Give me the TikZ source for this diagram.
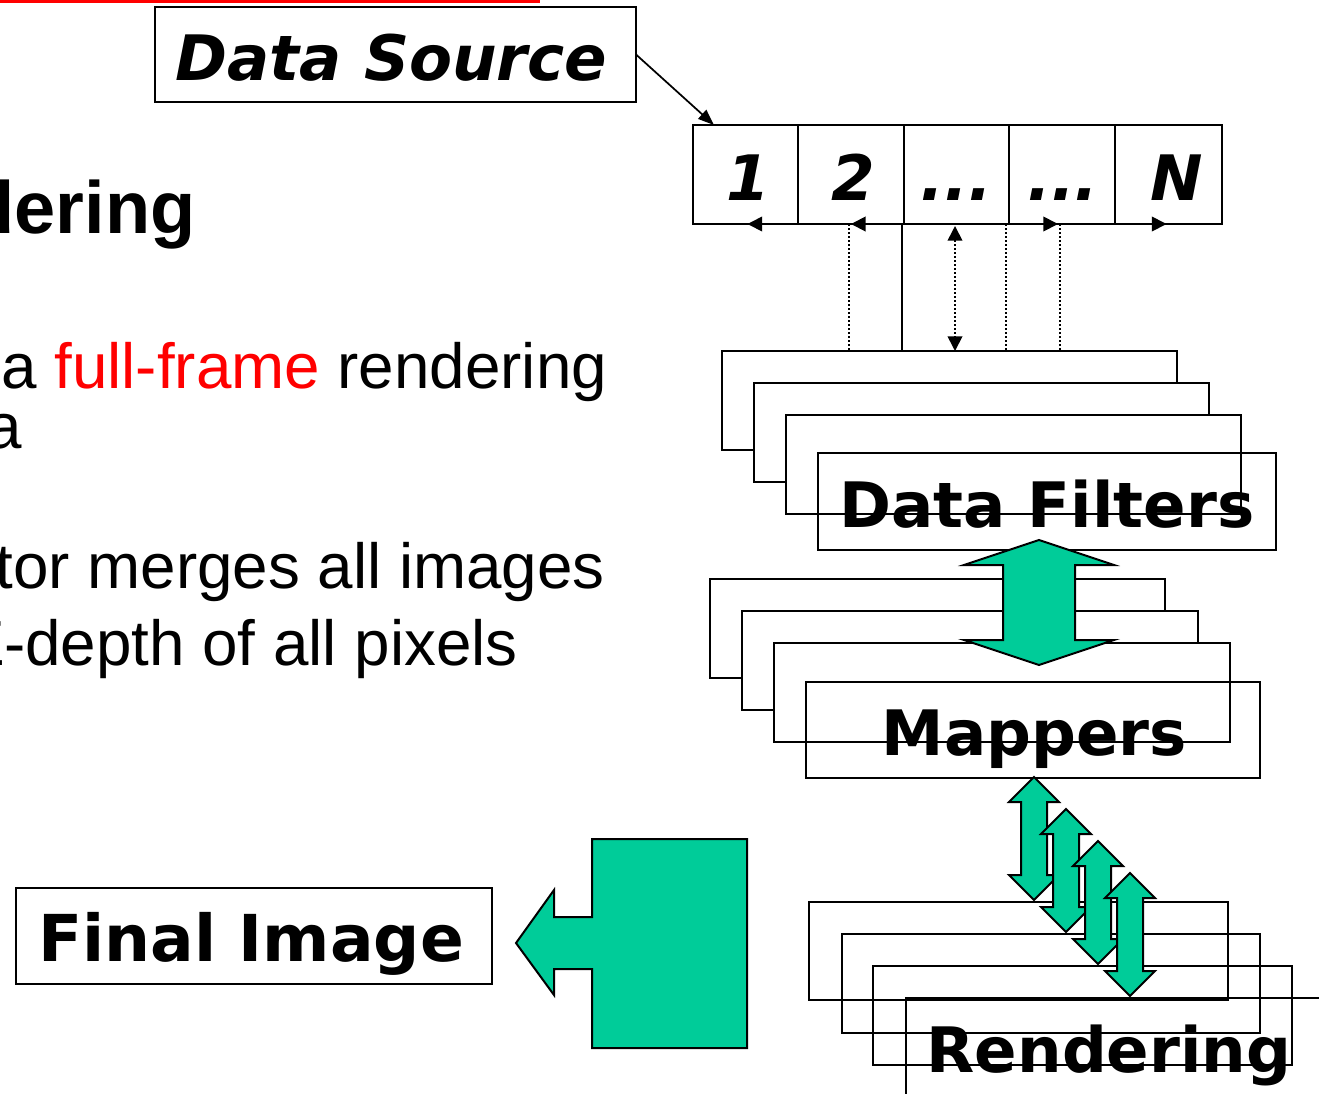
\documentclass[tikz,border=0pt]{standalone}
\usepackage{fontspec}
\setmainfont{Liberation Sans}
\newfontfamily\labelfont{DejaVu Sans}
\usetikzlibrary{arrows.meta,calc}
\definecolor{flowgreen}{HTML}{00CC99}
\definecolor{slidered}{HTML}{FF0000}

\tikzset{
  boxsize/.style 2 args={minimum width=#1*0.75pt, minimum height=#2*0.75pt,
    inner sep=0pt, outer sep=0pt, anchor=north west},
  frame/.style={draw=black, line width=1.5pt},
  layer/.style={frame, fill=white},
  boxtext/.style={font=\labelfont\bfseries\fontsize{47}{56}\selectfont,
    inner sep=0pt, anchor=base},
  celltext/.style={font=\labelfont\bfseries\itshape\fontsize{47}{56}\selectfont,
    inner sep=0pt, anchor=base},
  slidetext/.style={font=\fontsize{47.8}{56}\selectfont, inner sep=0pt},
  headtext/.style={font=\bfseries\fontsize{55.5}{64}\selectfont, inner sep=0pt},
  arrowbody/.style={draw=black, line width=1.5pt, fill=flowgreen, line join=miter},
  tap/.style={line width=1.3pt, dash pattern=on 1.5pt off 1.5pt},
  wire/.style={line width=1.5pt},
  tip/.style={-{Triangle[length=11pt,width=11pt]}},
  pics/dblarrow/.style n args={4}{code={
    \draw[arrowbody] (0,0) -- (#1,#3) -- (#2,#3) -- (#2,#4-#3) -- (#1,#4-#3)
      -- (0,#4) -- (-#1,#4-#3) -- (-#2,#4-#3) -- (-#2,#3) -- (-#1,#3) -- cycle;
  }},
}

\begin{document}
\begin{tikzpicture}[x=0.75pt,y=-0.75pt]
\useasboundingbox (0,0) rectangle (1319,1093);
\clip (0,0) rectangle (1319,1093);

% title underline
\fill[slidered] (0,0) rectangle (540,3);

% slide text
\node[headtext, anchor=base east] (head) at (196,233) {dering};
\node[slidetext, anchor=base west] (line1) at (1,388)
  {a \textcolor{slidered}{full-frame} rendering};
\node[slidetext, anchor=base east] (line2) at (22,448) {a};
\node[slidetext, anchor=base east] (line3) at (605,588) {tor merges all images};
\node[slidetext, anchor=base east] (line4) at (518,665) {Z-depth of all pixels};

% data source
\node[frame, boxsize={481}{95}] (src) at (155,7) {};
\node[boxtext, font=\labelfont\bfseries\itshape\fontsize{47}{56}\selectfont]
  (srclabel) at (391.5,80) {Data Source};

% partitions 1..N
\node[frame, boxsize={105}{99}] (c1) at (693,125) {};
\node[frame, boxsize={106}{99}] (c2) at (798,125) {};
\node[frame, boxsize={105}{99}] (c3) at (904,125) {};
\node[frame, boxsize={106}{99}] (c4) at (1009,125) {};
\node[frame, boxsize={107}{99}] (c5) at (1115,125) {};
\node[celltext] (l1) at ($(c1.center)+(3,25.5)$) {1};
\node[celltext] (l2) at ($(c2.center)+(2,25.5)$) {2};
\node[celltext] (l3) at ($(c3.center)+(0,25.5)$) {...};
\node[celltext] (l4) at ($(c4.center)+(1,25.5)$) {...};
\node[celltext] (l5) at ($(c5.center)+(8,25.5)$) {N};

\draw[line width=1.3pt, -{Triangle[length=12pt,width=9pt]}]
  (src.east) -- ($(c1.north west)+(21,0)$);

% data filters
\node[layer, boxsize={455}{99}] (df1) at (722,351) {};
\node[layer, boxsize={455}{99}] (df2) at (754,383) {};
\node[layer, boxsize={455}{99}] (df3) at (786,415) {};
\node[frame, boxsize={458}{97}] (df4) at (818,453) {};
\node[boxtext] (dflabel) at (1047,527) {Data Filters};

% connections between partitions and filters
\coordinate (tapA) at (849,0);
\coordinate (tapB) at (902,0);
\coordinate (tapC) at (955,0);
\coordinate (tapD) at (1006,0);
\coordinate (tapE) at (1060,0);
\draw[tap] (tapA |- c2.south) -- (tapA |- df1.north);
\draw[tap, tip] (tapA |- c2.south) -- ($(c1.south)+(2,0)$);
\draw[wire] (tapB |- c3.south) -- (tapB |- df1.north);
\draw[wire, tip] (tapB |- c3.south) -- (c2.south);
\draw[tap, {Triangle[length=11pt,width=11pt]}-{Triangle[length=11pt,width=11pt]}]
  ($(tapC |- c3.south)+(0,2)$) -- (tapC |- df1.north);
\draw[tap] (tapD |- c4.south) -- (tapD |- df1.north);
\draw[tap, tip] (tapD |- c4.south) -- ($(c4.south)+(-4,0)$);
\draw[tap] (tapE |- c4.south) -- (tapE |- df1.north);
\draw[tap, tip] (tapE |- c4.south) -- ($(c5.south)+(-2,0)$);

% mappers
\node[layer, boxsize={455}{99}] (mp1) at (710,579) {};
\node[layer, boxsize={456}{99}] (mp2) at (742,611) {};
\node[layer, boxsize={456}{99}] (mp3) at (774,643) {};
\node[frame, boxsize={454}{96}] (mp4) at (806,682) {};
\node[boxtext] (mplabel) at (1034.5,755) {Mappers};

\pic at (1039,540) {dblarrow={75}{36}{25}{125}};

% rendering
\node[frame, boxsize={419}{98}] (rd1) at (809,902) {};
\node[frame, boxsize={418}{99}] (rd2) at (842,934) {};
\node[frame, boxsize={419}{99}] (rd3) at (873,966) {};
\node[frame, boxsize={419}{98}] (rd4) at (906,998) {};
\node[boxtext] (rdlabel) at (1109,1072) {Rendering};

\pic at (1034,777) {dblarrow={25}{13}{25}{123}};
\pic at (1066,809) {dblarrow={25}{13}{25}{123}};
\pic at (1098,841) {dblarrow={25}{13}{25}{123}};
\pic at (1130,873) {dblarrow={25}{13}{25}{123}};

% compositing into the final image
\draw[arrowbody] (747,839) -- (592,839) -- (592,917) -- (554,917) -- (554,890)
  -- (516,943) -- (554,995) -- (554,969) -- (592,969) -- (592,1048)
  -- (747,1048) -- cycle;
\node[frame, boxsize={476}{96}] (fin) at (16,888) {};
\node[boxtext, font=\labelfont\bfseries\fontsize{48.5}{56}\selectfont]
  (finlabel) at (251,961) {Final Image};
\end{tikzpicture}
\end{document}
